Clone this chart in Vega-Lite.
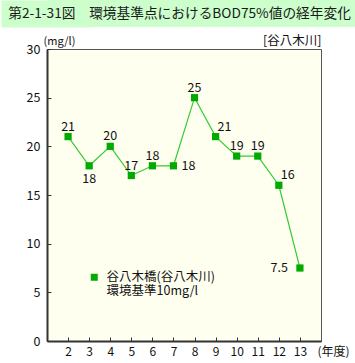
{
  "$schema": "https://vega.github.io/schema/vega-lite/v6.json",
  "padding": 0,
  "background": "white",
  "spacing": 6,
  "config": {"font": "Noto Sans CJK JP"},
  "vconcat": [
    {
      "width": 309,
      "height": 27,
      "view": {"fill": "#ccffcc", "stroke": null},
      "data": {"values": [{"t": "第2-1-31図　環境基準点におけるBOD75%値の経年変化", "k": 0}]},
      "mark": {"type": "text", "fontSize": 13.7, "color": "#1a1a1a", "baseline": "middle", "align": "center", "dx": -22},
      "encoding": {
        "text": {"field": "t"},
        "y": {"field": "k", "type": "quantitative", "scale": {"domain": [-1, 1]},
          "axis": {"title": null, "labels": false, "ticks": false, "grid": false, "domain": true, "domainColor": "#ccffcc", "domainWidth": 92, "domainCap": "butt", "minExtent": 46, "maxExtent": 46}}
      }
    },
    {
      "width": 274,
      "height": 292,
      "view": {"fill": "#fffff0", "stroke": "#555"},
      "resolve": {"axis": {"y": "independent"}},
      "data": {"values": [
        {"year": 2, "bod": 21, "site": "谷八木橋(谷八木川)"},
        {"year": 3, "bod": 18, "site": "谷八木橋(谷八木川)"},
        {"year": 4, "bod": 20, "site": "谷八木橋(谷八木川)"},
        {"year": 5, "bod": 17, "site": "谷八木橋(谷八木川)"},
        {"year": 6, "bod": 18, "site": "谷八木橋(谷八木川)"},
        {"year": 7, "bod": 18, "site": "谷八木橋(谷八木川)"},
        {"year": 8, "bod": 25, "site": "谷八木橋(谷八木川)"},
        {"year": 9, "bod": 21, "site": "谷八木橋(谷八木川)"},
        {"year": 10, "bod": 19, "site": "谷八木橋(谷八木川)"},
        {"year": 11, "bod": 19, "site": "谷八木橋(谷八木川)"},
        {"year": 12, "bod": 16, "site": "谷八木橋(谷八木川)"},
        {"year": 13, "bod": 7.5, "site": "谷八木橋(谷八木川)"}
      ]},
      "encoding": {
        "x": {"field": "year", "type": "quantitative", "scale": {"domain": [1, 14], "nice": false, "zero": false},
          "axis": {"values": [2,3,4,5,6,7,8,9,10,11,12,13], "grid": false, "title": "(年度)", "titleX": 286, "titleY": 5, "titleBaseline": "top", "titleFontSize": 12, "titleFontWeight": "normal", "titleColor": "#111",
            "labelFontSize": 12, "labelColor": "#111", "labelPadding": 9, "tickSize": -4, "tickColor": "#333", "domainColor": "#333", "domainWidth": 2, "labelFlush": false}}
      },
      "layer": [
        {"mark": {"type": "line", "color": "#33cc33", "strokeWidth": 1.2},
          "encoding": {"y": {"field": "bod", "type": "quantitative", "scale": {"domain": [0, 30], "nice": false},
          "axis": {"values": [0,5,10,15,20,25,30], "grid": false, "title": "(mg/l)", "titleAngle": 0, "titleAlign": "left", "titleBaseline": "alphabetic", "titleX": -4, "titleY": -5, "titleFontSize": 11, "titleFontWeight": "normal", "titleColor": "#111",
            "labelFontSize": 12.5, "labelColor": "#111", "labelPadding": 11, "tickSize": -4, "tickColor": "#333", "domainColor": "#333", "domainWidth": 2, "minExtent": 46, "maxExtent": 46, "labelFlush": false}}}},
        {"mark": {"type": "point", "shape": "square", "filled": true, "size": 52, "opacity": 1},
          "encoding": {
            "y": {"field": "bod", "type": "quantitative",
              "axis": {"orient": "right", "title": "[谷八木川]", "titleAngle": 0, "titleAlign": "right", "titleBaseline": "alphabetic", "titleX": 0, "titleY": -5, "titleFontSize": 12.5, "titleFontWeight": "normal", "titleColor": "#111", "labels": false, "ticks": false, "domain": false, "grid": false, "minExtent": 0, "maxExtent": 0}},
            "color": {"field": "site", "type": "nominal",
            "scale": {"domain": ["谷八木橋(谷八木川)", "環境基準10mg/l"], "range": ["#00aa00", "rgba(0,0,0,0)"]},
            "legend": {"orient": "none", "legendX": 41, "legendY": 271, "title": null, "symbolType": "square", "symbolSize": 49, "symbolStrokeWidth": 0, "labelFontSize": 12.5, "labelColor": "#111", "rowPadding": 1, "padding": 0, "labelOffset": 6}}}},
        {"transform": [{"filter": {"field": "year", "oneOf": [2, 4, 5, 6, 8, 10, 11]}}],
          "mark": {"type": "text", "fontSize": 12.5, "color": "#111", "align": "center", "baseline": "alphabetic", "dy": -6},
          "encoding": {"y": {"field": "bod", "type": "quantitative", "axis": null}, "text": {"field": "bod", "type": "quantitative"}}},
        {"transform": [{"filter": {"field": "year", "oneOf": [3]}}],
          "mark": {"type": "text", "fontSize": 12.5, "color": "#111", "align": "center", "baseline": "alphabetic", "dy": 17},
          "encoding": {"y": {"field": "bod", "type": "quantitative", "axis": null}, "text": {"field": "bod", "type": "quantitative"}}},
        {"transform": [{"filter": {"field": "year", "oneOf": [7]}}],
          "mark": {"type": "text", "fontSize": 12.5, "color": "#111", "align": "left", "baseline": "middle", "dx": 8},
          "encoding": {"y": {"field": "bod", "type": "quantitative", "axis": null}, "text": {"field": "bod", "type": "quantitative"}}},
        {"transform": [{"filter": {"field": "year", "oneOf": [9, 12]}}],
          "mark": {"type": "text", "fontSize": 12.5, "color": "#111", "align": "left", "baseline": "alphabetic", "dx": 2, "dy": -6},
          "encoding": {"y": {"field": "bod", "type": "quantitative", "axis": null}, "text": {"field": "bod", "type": "quantitative"}}},
        {"transform": [{"filter": {"field": "year", "oneOf": [13]}}],
          "mark": {"type": "text", "fontSize": 12.5, "color": "#111", "align": "right", "baseline": "middle", "dx": -12},
          "encoding": {"y": {"field": "bod", "type": "quantitative", "axis": null}, "text": {"field": "bod", "type": "quantitative"}}}
      ]
    }
  ]
}
